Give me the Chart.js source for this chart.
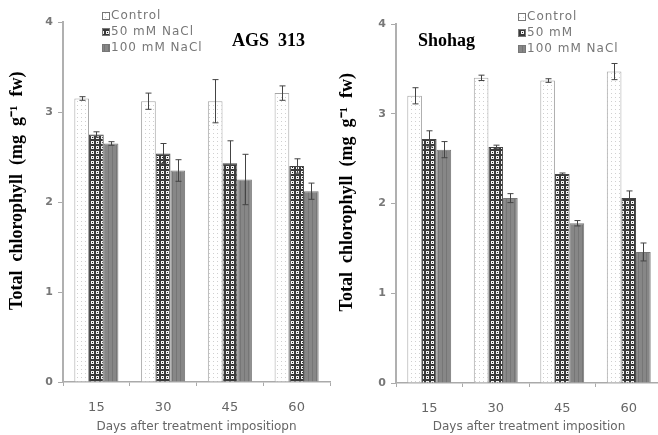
<!DOCTYPE html>
<html>
<head>
<meta charset="utf-8">
<script src="https://cdn.jsdelivr.net/npm/chart.js@4.4.1/dist/chart.umd.min.js"></script>
<style>
  body { margin: 0; background: #fff; }
  #wrap { position: relative; width: 658px; height: 435px; overflow: hidden; }
  .painel { position: absolute; top: 0; height: 435px; }
  .titulo { position: absolute; font: bold 18px "Liberation Serif", serif; color: #000; white-space: pre; }
</style>
</head>
<body>
<div id="wrap">
  <div class="painel" style="left:0;width:331px"><canvas id="graficoAGS"></canvas></div>
  <div class="painel" style="left:330px;width:333px"><canvas id="graficoShohag"></canvas></div>
  <div class="titulo" style="left:232px;top:30px">AGS  313</div>
  <div class="titulo" style="left:418px;top:30px">Shohag</div>
</div>
<script>
// dados
var dias = ['15', '30', '45', '60'];

var agsControle = [3.15, 3.12, 3.12, 3.21];
var agsControleErro = [0.02, 0.09, 0.24, 0.08];
var ags50 = [2.75, 2.54, 2.43, 2.40];
var ags50Erro = [0.03, 0.11, 0.25, 0.08];
var ags100 = [2.65, 2.35, 2.25, 2.12];
var ags100Erro = [0.02, 0.12, 0.28, 0.09];

var shoControle = [3.20, 3.40, 3.37, 3.47];
var shoControleErro = [0.09, 0.03, 0.02, 0.09];
var sho50 = [2.72, 2.63, 2.33, 2.06];
var sho50Erro = [0.09, 0.02, 0.01, 0.08];
var sho100 = [2.60, 2.06, 1.78, 1.46];
var sho100Erro = [0.09, 0.05, 0.03, 0.10];

var yTicks = [0, 1, 2, 3, 4];

// * padrões das barras
function padrao(tam, desenha) {
    var c = document.createElement('canvas');
    c.width = tam; c.height = tam;
    desenha(c.getContext('2d'));
    return c.getContext('2d').createPattern(c, 'repeat');
}

var padraoControle = padrao(4, function (g) {
    g.fillStyle = '#fff'; g.fillRect(0, 0, 4, 4);
    g.fillStyle = '#d0d0d0'; g.fillRect(1, 1, 1, 1);
});
var padrao50 = padrao(5, function (g) {
    g.fillStyle = '#3a3a3a'; g.fillRect(0, 0, 5, 5);
    g.fillStyle = '#f4f4f4'; g.fillRect(1, 1, 3, 3);
    g.fillStyle = '#222'; g.fillRect(2, 2, 1, 1);
});
var padrao100 = padrao(4, function (g) {
    g.fillStyle = '#878787'; g.fillRect(0, 0, 4, 4);
    g.fillStyle = '#767676'; g.fillRect(0, 0, 1, 4);
});

// ! barras de erro
var pluginErro = {
    id: 'erro',
    afterDatasetsDraw: function (chart) {
        var ctx = chart.ctx;
        var y = chart.scales.y;
        ctx.save();
        ctx.strokeStyle = '#444';
        ctx.lineWidth = 1;
        chart.data.datasets.forEach(function (ds, i) {
            var meta = chart.getDatasetMeta(i);
            meta.data.forEach(function (bar, j) {
                var v = ds.data[j], e = ds.erro[j];
                var x = Math.round(bar.x) + 0.5;
                var y1 = y.getPixelForValue(v + e), y2 = y.getPixelForValue(v - e);
                ctx.beginPath();
                ctx.moveTo(x, y1); ctx.lineTo(x, y2);
                ctx.moveTo(x - 3, y1); ctx.lineTo(x + 3, y1);
                ctx.moveTo(x - 3, y2); ctx.lineTo(x + 3, y2);
                ctx.stroke();
            });
        });
        ctx.restore();
    }
};

// > legenda desenhada dentro do gráfico
var pluginLegenda = {
    id: 'legendaInterna',
    afterDraw: function (chart, args, opts) {
        var ctx = chart.ctx;
        ctx.save();
        ctx.font = '12px "DejaVu Sans", sans-serif';
        ctx.letterSpacing = '1px';
        ctx.textBaseline = 'middle';
        opts.rotulos.forEach(function (txt, i) {
            var ds = chart.data.datasets[i];
            var yy = opts.y + i * opts.passo;
            ctx.fillStyle = ds.backgroundColor;
            ctx.fillRect(opts.x, yy - 3.5, 7, 7);
            ctx.strokeStyle = '#777';
            ctx.lineWidth = 1;
            ctx.strokeRect(opts.x + 0.5, yy - 3.5, 7, 7);
            ctx.fillStyle = '#777';
            ctx.fillText(txt, opts.x + 9, yy);
        });
        ctx.restore();
    }
};

function montaGrafico(id, valores, erros, rotulos, larguraY, topo, alturaX, tituloX, legenda) {
    var nomes = ['Control', '50 mM NaCl', '100 mM NaCl'];
    var cores = [padraoControle, padrao50, padrao100];
    var bordas = ['#a5a5a5', '#444', '#777'];
    var datasets = [];
    for (var i = 0; i < 3; i++) {
        datasets.push({
            label: nomes[i],
            data: valores[i],
            erro: erros[i],
            backgroundColor: cores[i],
            borderColor: bordas[i],
            borderWidth: 1,
            categoryPercentage: 0.66,
            barPercentage: 1
        });
    }
    return new Chart(document.getElementById(id), {
        type: 'bar',
        data: { labels: dias, datasets: datasets },
        plugins: [pluginErro, pluginLegenda],
        options: {
            responsive: true,
            maintainAspectRatio: false,
            animation: false,
            layout: { padding: { top: topo, right: 1, left: 0, bottom: 0 } },
            plugins: {
                legend: { display: false },
                tooltip: { enabled: false },
                legendaInterna: { x: legenda.x, y: legenda.y, passo: 16, rotulos: rotulos }
            },
            scales: {
                x: {
                    afterFit: function (s) { s.height = alturaX; },
                    grid: { drawOnChartArea: false, tickLength: 4, color: '#aaa' },
                    border: { color: '#aaa', width: 1.5 },
                    ticks: { color: '#666', padding: 14, font: { family: 'DejaVu Sans', size: 13 } },
                    title: {
                        display: true, text: tituloX, color: '#666',
                        font: { family: 'DejaVu Sans', size: 12 },
                        padding: { top: 0, bottom: 1 }
                    }
                },
                y: {
                    min: 0, max: 4,
                    afterFit: function (s) { s.width = larguraY; },
                    afterBuildTicks: function (s) { s.ticks = yTicks.map(function (v) { return { value: v }; }); },
                    grid: { drawOnChartArea: false, tickLength: 5, color: '#aaa' },
                    border: { color: '#b0b0b0', width: 2 },
                    ticks: { color: '#777', padding: 5, font: { family: 'DejaVu Sans', size: 11, weight: 'bold' } },
                    title: {
                        display: true,
                        text: '\u00A0\u00A0\u00A0\u00A0\u00A0Total  chlorophyll  (mg  g\u207B\u00B9  fw)',
                        color: '#000',
                        font: { family: 'Liberation Serif', size: 18, weight: 'bold' },
                        padding: { top: 7, bottom: 0 }
                    }
                }
            }
        }
    });
}

montaGrafico('graficoAGS',
    [agsControle, ags50, ags100],
    [agsControleErro, ags50Erro, ags100Erro],
    ['Control', '50 mM NaCl', '100 mM NaCl'],
    63, 22, 53, 'Days after treatment impositiopn', { x: 102, y: 16 });

montaGrafico('graficoShohag',
    [shoControle, sho50, sho100],
    [shoControleErro, sho50Erro, sho100Erro],
    ['Control', '50 mM', '100 mM NaCl'],
    66, 24, 52, 'Days after treatment imposition', { x: 188, y: 17 });
</script>
</body>
</html>
